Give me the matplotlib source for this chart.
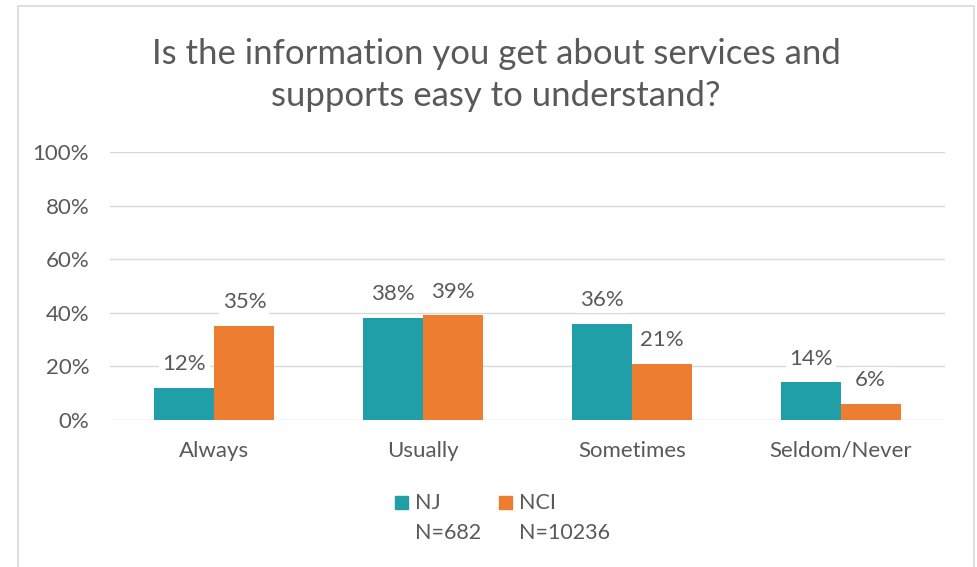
import matplotlib
matplotlib.use("Agg")
import matplotlib.pyplot as plt
import matplotlib.ticker as mticker
from matplotlib.patches import Rectangle
import numpy as np

# data
categories = ["Always", "Usually", "Sometimes", "Seldom/Never"]
nj_values = [12, 38, 36, 14]
nci_values = [35, 39, 21, 6]
series_names = ["NJ", "NCI"]
series_counts = ["N=682", "N=10236"]
y_ticks = [0, 20, 40, 60, 80, 100]

TEAL = "#209FA8"
ORANGE = "#ED7D31"
TEXT = "#595959"
GRID = "#D9D9D9"

plt.rcParams["font.family"] = ["Lato", "DejaVu Sans"]

W, H = 978, 567
fig = plt.figure(figsize=(W / 100, H / 100), dpi=100)
ax = fig.add_axes([110 / W, 1 - 420 / H, (945 - 110) / W, (420 - 152) / H])

# chart frame
fig.patches.append(Rectangle((18 / W, -0.05), (974 - 18) / W, 1.05 - 6 / H,
                             transform=fig.transFigure, fill=False,
                             edgecolor="#D9D9D9", linewidth=1.2))

x = np.arange(len(categories))
w = 0.287
b1 = ax.bar(x - w / 2, nj_values, w, color=TEAL, zorder=3)
b2 = ax.bar(x + w / 2, nci_values, w, color=ORANGE, zorder=3)

for bars, vals in ((b1, nj_values), (b2, nci_values)):
    for rect, v in zip(bars, vals):
        ax.annotate(f"{v}%", (rect.get_x() + rect.get_width() / 2, v),
                    xytext=(0, 10), textcoords="offset points",
                    ha="center", va="bottom", fontsize=16, color=TEXT,
                    bbox=dict(boxstyle="square,pad=0.15", fc="white", ec="none"),
                    zorder=4)

ax.set_xlim(-0.5, len(categories) - 0.5)
ax.set_ylim(0, 100)
ax.set_yticks(y_ticks)
ax.yaxis.set_major_formatter(mticker.FuncFormatter(lambda v, _: f"{v:.0f}%"))
ax.set_xticks(x)
ax.set_xticklabels(categories)
ax.tick_params(axis="both", length=0, labelsize=16, labelcolor=TEXT)
ax.tick_params(axis="y", pad=15)
ax.tick_params(axis="x", pad=15)
ax.grid(axis="y", color=GRID, linewidth=1, zorder=0)
for s in ax.spines.values():
    s.set_visible(False)

fig.text(496 / W, 1 - 75 / H,
         "Is the information you get about services and\nsupports easy to understand?",
         ha="center", va="center", fontsize=25, color=TEXT, linespacing=1.4)

# legend
for sx, col, name, cnt in ((395, TEAL, series_names[0], series_counts[0]),
                           (499, ORANGE, series_names[1], series_counts[1])):
    fig.patches.append(Rectangle((sx / W, 1 - 509 / H), 13 / W, 13 / H,
                                 transform=fig.transFigure, color=col))
    fig.text((sx + 20) / W, 1 - 503 / H, name, ha="left", va="center",
             fontsize=15.5, color=TEXT)
    fig.text((sx + 20) / W, 1 - 533 / H, cnt, ha="left", va="center",
             fontsize=15.5, color=TEXT)

fig.savefig("out.png", dpi=100, facecolor="white")
